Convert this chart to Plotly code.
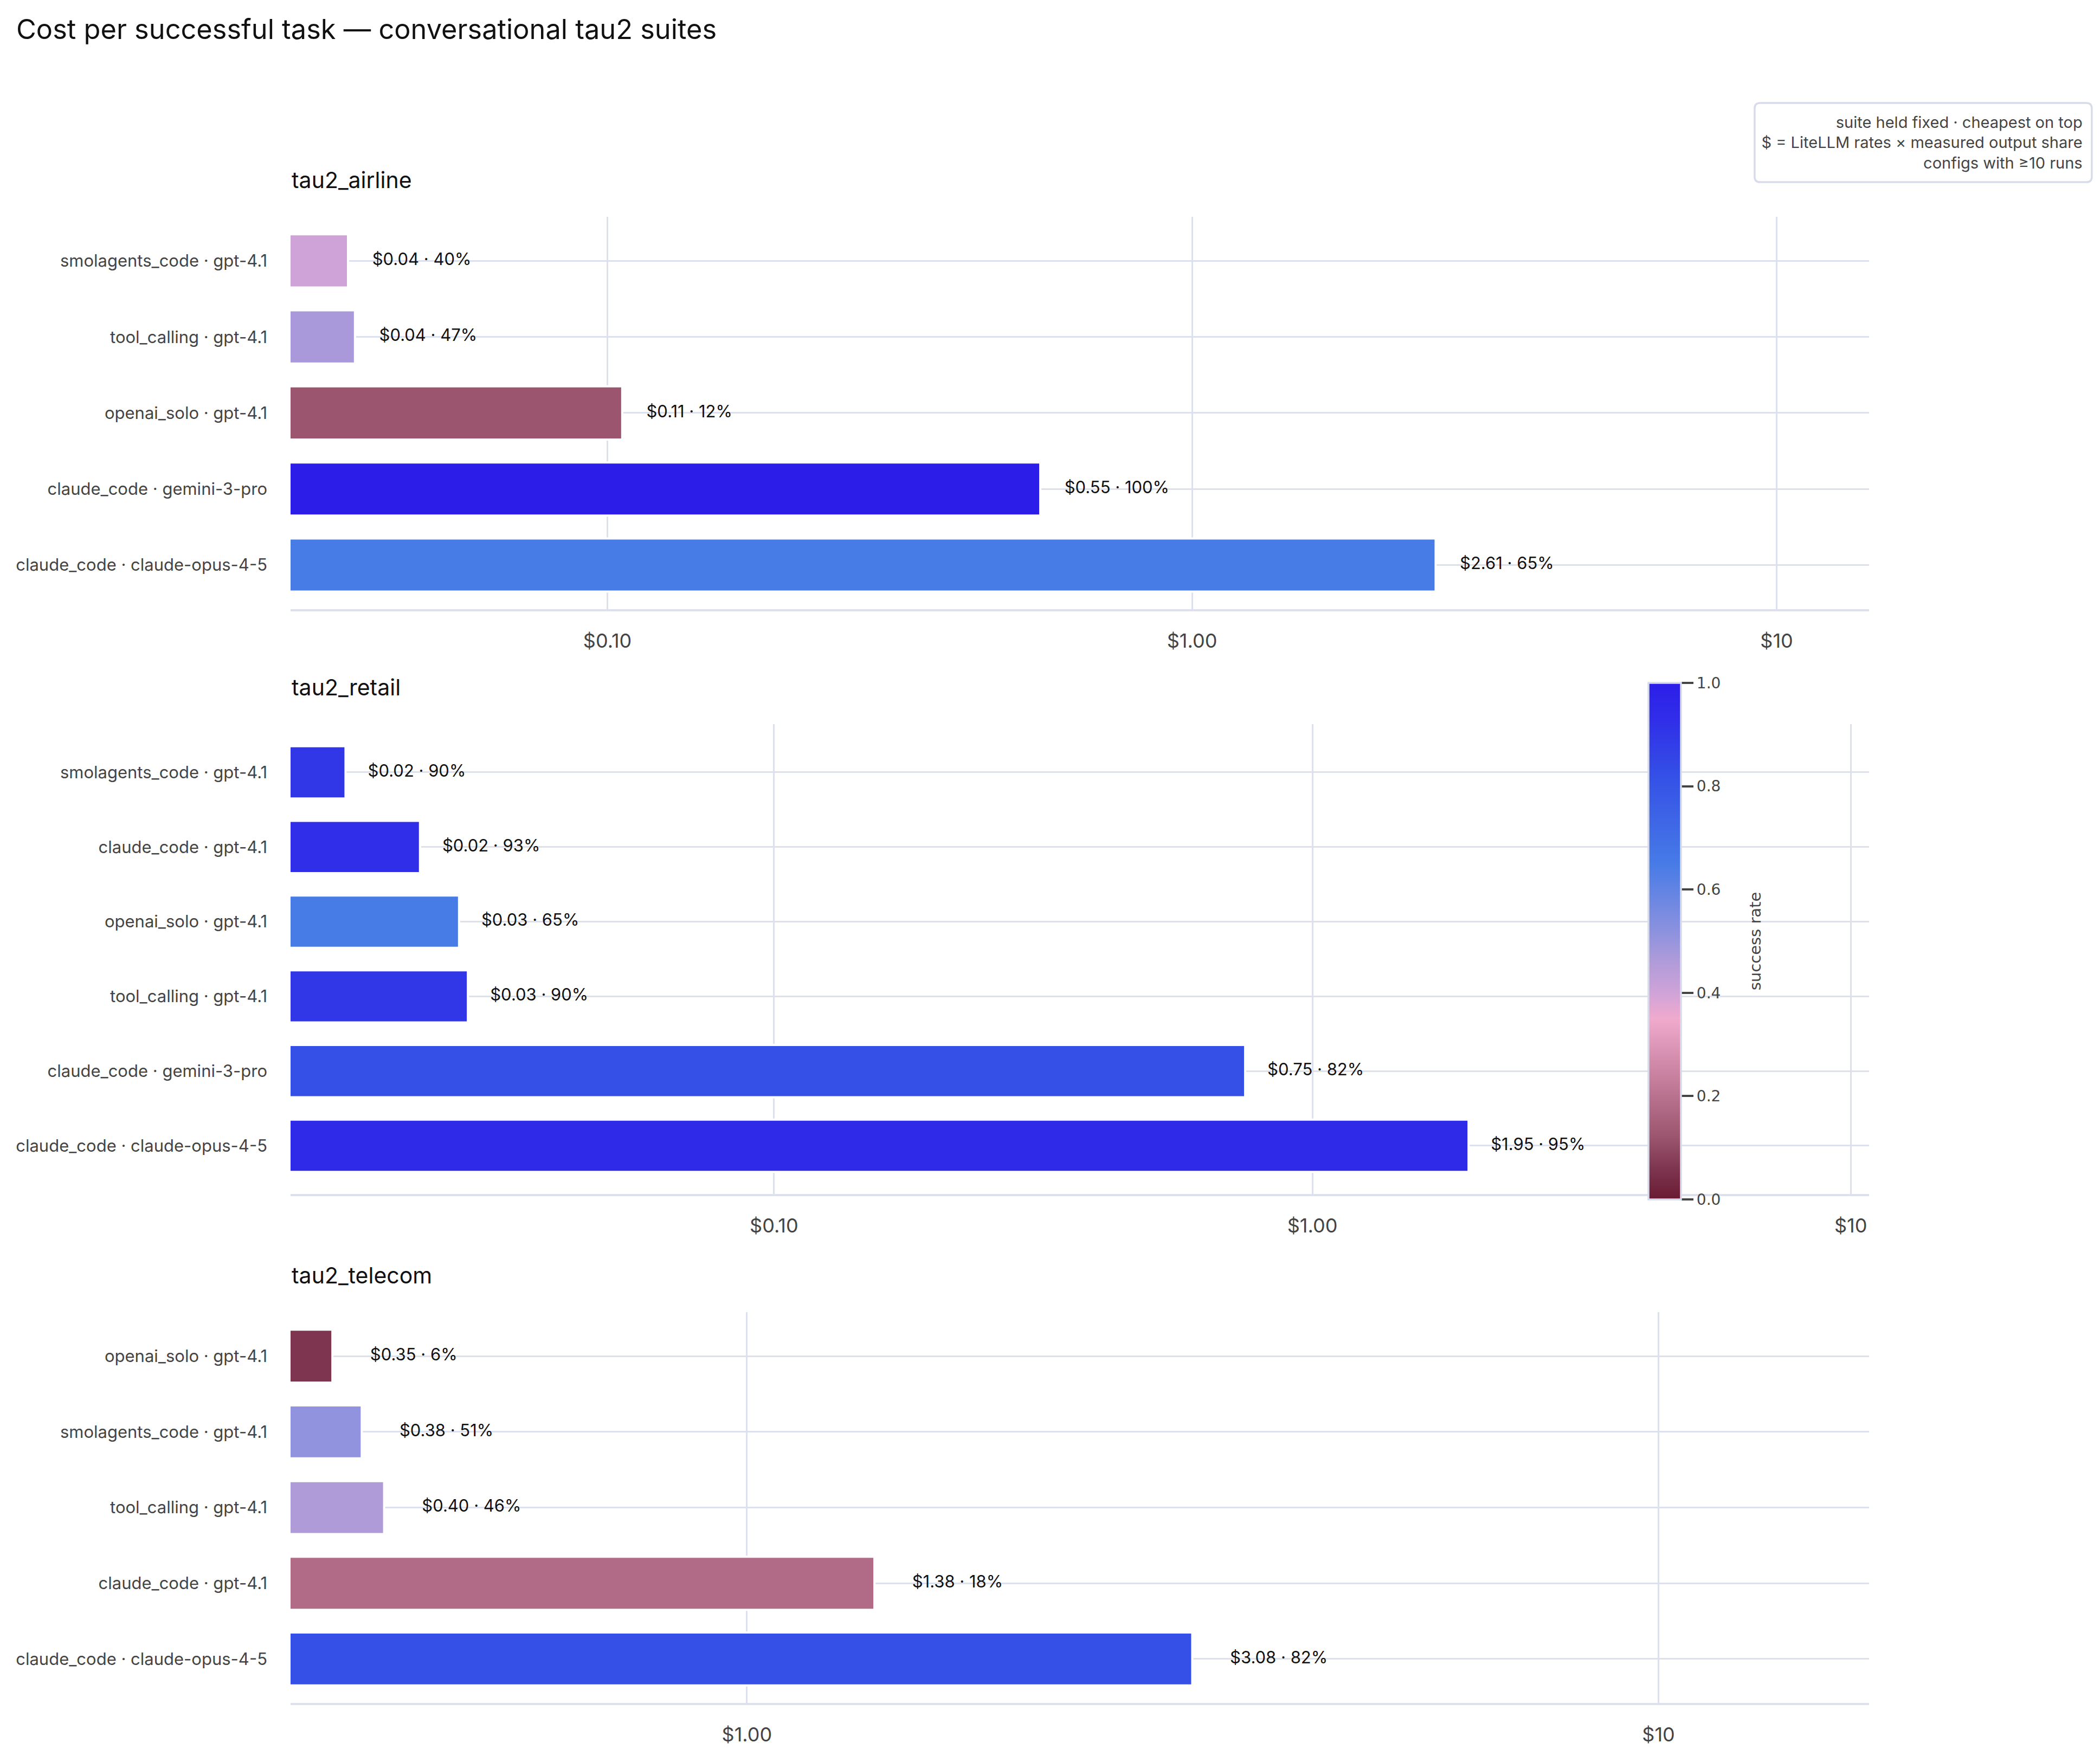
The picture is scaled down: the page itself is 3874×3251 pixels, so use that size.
import plotly.graph_objects as go

# ---- data ----
suites = ["tau2_airline", "tau2_retail", "tau2_telecom"]

airline_configs = ["smolagents_code · gpt-4.1", "tool_calling · gpt-4.1", "openai_solo · gpt-4.1",
                   "claude_code · gemini-3-pro", "claude_code · claude-opus-4-5"]
airline_cost = [0.036, 0.037, 0.106, 0.55, 2.61]
airline_success = [0.40, 0.47, 0.12, 1.00, 0.65]

retail_configs = ["smolagents_code · gpt-4.1", "claude_code · gpt-4.1", "openai_solo · gpt-4.1",
                  "tool_calling · gpt-4.1", "claude_code · gemini-3-pro", "claude_code · claude-opus-4-5"]
retail_cost = [0.016, 0.022, 0.026, 0.027, 0.75, 1.95]
retail_success = [0.90, 0.93, 0.65, 0.90, 0.82, 0.95]

telecom_configs = ["openai_solo · gpt-4.1", "smolagents_code · gpt-4.1", "tool_calling · gpt-4.1",
                   "claude_code · gpt-4.1", "claude_code · claude-opus-4-5"]
telecom_cost = [0.351, 0.378, 0.40, 1.38, 3.08]
telecom_success = [0.06, 0.51, 0.46, 0.18, 0.82]

tick_vals = [0.1, 1, 10]
tick_text = ["$0.10", "$1.00", "$10"]

note_lines = ["suite held fixed · cheapest on top",
              "$ = LiteLLM rates × measured output share",
              "configs with ≥10 runs"]

# ---- styling ----
FONT = "Inter, 'Noto Sans', sans-serif"
GRID = "#dde1ee"
TICK = "#444444"

colorscale = [
    [0.00, "#6a1a33"], [0.06, "#7e3650"], [0.12, "#9c556e"], [0.18, "#b26b86"],
    [0.35, "#f0aacd"], [0.40, "#cfa3d8"], [0.46, "#b09bd9"], [0.51, "#9193de"],
    [0.65, "#477be6"], [0.82, "#3450e6"], [0.93, "#302ee8"], [1.00, "#2c1ee8"],
]

# (configs, cost, success, log x-range, y-domain, category padding)
panels = [
    (airline_configs, airline_cost, airline_success, [-1.542, 1.158], [0.7360, 1.0], 0.58),
    (retail_configs, retail_cost, retail_success, [-1.898, 1.034], [0.3425, 0.6586], 0.645),
    (telecom_configs, telecom_cost, telecom_success, [-0.5006, 1.231], [0.0, 0.2629], 0.58),
]

fig = go.Figure()
layout_axes = {}
annotations = []

for i, (configs, cost, success, xr, dom, pad) in enumerate(panels, start=1):
    xa, ya = f"x{i}", f"y{i}"
    labels = [f"${c:.2f} · {s:.0%}" for c, s in zip(cost, success)]

    fig.add_trace(go.Bar(
        y=configs, x=cost, orientation="h", width=0.7,
        marker=dict(color=success, coloraxis="coloraxis", line=dict(color="white", width=4)),
        xaxis=xa, yaxis=ya, showlegend=False,
        hovertemplate="%{y}<br>$%{x:.2f}<extra></extra>",
    ))
    # value labels sit just right of each bar
    fig.add_trace(go.Scatter(
        y=configs, x=[c * 1.1 for c in cost], mode="text", text=labels,
        textposition="middle right", textfont=dict(size=31, color="#111111", family=FONT),
        xaxis=xa, yaxis=ya, showlegend=False, hoverinfo="skip",
    ))

    n = len(configs)
    sfx = "" if i == 1 else str(i)
    layout_axes["xaxis" + sfx] = dict(
        type="log", range=xr, domain=[0, 1], anchor=ya,
        tickvals=tick_vals, ticktext=tick_text, tickfont=dict(size=36, color=TICK),
        showgrid=True, gridcolor=GRID, gridwidth=3,
        showline=True, linecolor=GRID, linewidth=3.5, zeroline=False,
        ticks="", ticklabelstandoff=24,
    )
    layout_axes["yaxis" + sfx] = dict(
        domain=dom, anchor=xa, type="category",
        categoryorder="array", categoryarray=configs,
        range=[n - 1 + pad, -pad],
        showgrid=True, gridcolor=GRID, gridwidth=3,
        showline=False, zeroline=False, ticks="",
        tickfont=dict(size=31, color=TICK), ticklabelstandoff=42,
    )
    annotations.append(dict(
        text=suites[i - 1], xref="paper", yref="paper", x=0, y=dom[1],
        xanchor="left", yanchor="bottom", yshift=41, showarrow=False,
        font=dict(size=41, color="#111111", family=FONT),
    ))

# note box: rounded outline drawn as a path, text as an annotation inside it
bx0, bx1, by0, by1 = 0.9275, 1.1411, 1.0233, 1.0766
rx, ry = 0.0035, 0.0037
box_path = (f"M {bx0 + rx},{by1} L {bx1 - rx},{by1} Q {bx1},{by1} {bx1},{by1 - ry} "
            f"L {bx1},{by0 + ry} Q {bx1},{by0} {bx1 - rx},{by0} "
            f"L {bx0 + rx},{by0} Q {bx0},{by0} {bx0},{by0 + ry} "
            f"L {bx0},{by1 - ry} Q {bx0},{by1} {bx0 + rx},{by1} Z")

annotations.append(dict(
    text="<br>".join(note_lines), xref="paper", yref="paper", x=1.1411, y=1.0766,
    xanchor="right", yanchor="top", align="right", showarrow=False,
    font=dict(size=29, color=TICK, family=FONT),
    borderwidth=3.5, borderpad=14, bordercolor="rgba(0,0,0,0)",
))

fig.update_layout(
    width=3858, height=3235,
    margin=dict(l=528, r=418, t=392, b=101),
    template="plotly_white",
    paper_bgcolor="white", plot_bgcolor="white",
    font=dict(family=FONT, color=TICK),
    title=dict(text="Cost per successful task — conversational tau2 suites",
               x=0.0057, xref="container", xanchor="left",
               y=0.9858, yref="container", yanchor="middle",
               font=dict(size=50.5, color="#111111", family=FONT)),
    coloraxis=dict(
        cmin=0, cmax=1, colorscale=colorscale,
        colorbar=dict(
            title=dict(text="success rate", side="right", font=dict(size=29, color=TICK)),
            x=0.8602, xanchor="left", xpad=0, y=0.5126, yanchor="middle", ypad=0,
            len=0.3476, lenmode="fraction", thickness=60,
            outlinecolor="#d8dcea", outlinewidth=3.5,
            ticks="outside", ticklen=22, tickcolor=TICK, tickwidth=3.5,
            tickformat=".1f", dtick=0.2, ticksuffix="\u00a0\u00a0\u00a0\u00a0\u00a0",
            tickfont=dict(size=28, color=TICK, family="DejaVu Sans"),
        ),
    ),
    shapes=[dict(type="path", path=box_path, xref="paper", yref="paper",
                 line=dict(color="#d8dcea", width=3.5), fillcolor="white", layer="above")],
    annotations=annotations,
    **layout_axes,
)

fig.write_html("out.html")
